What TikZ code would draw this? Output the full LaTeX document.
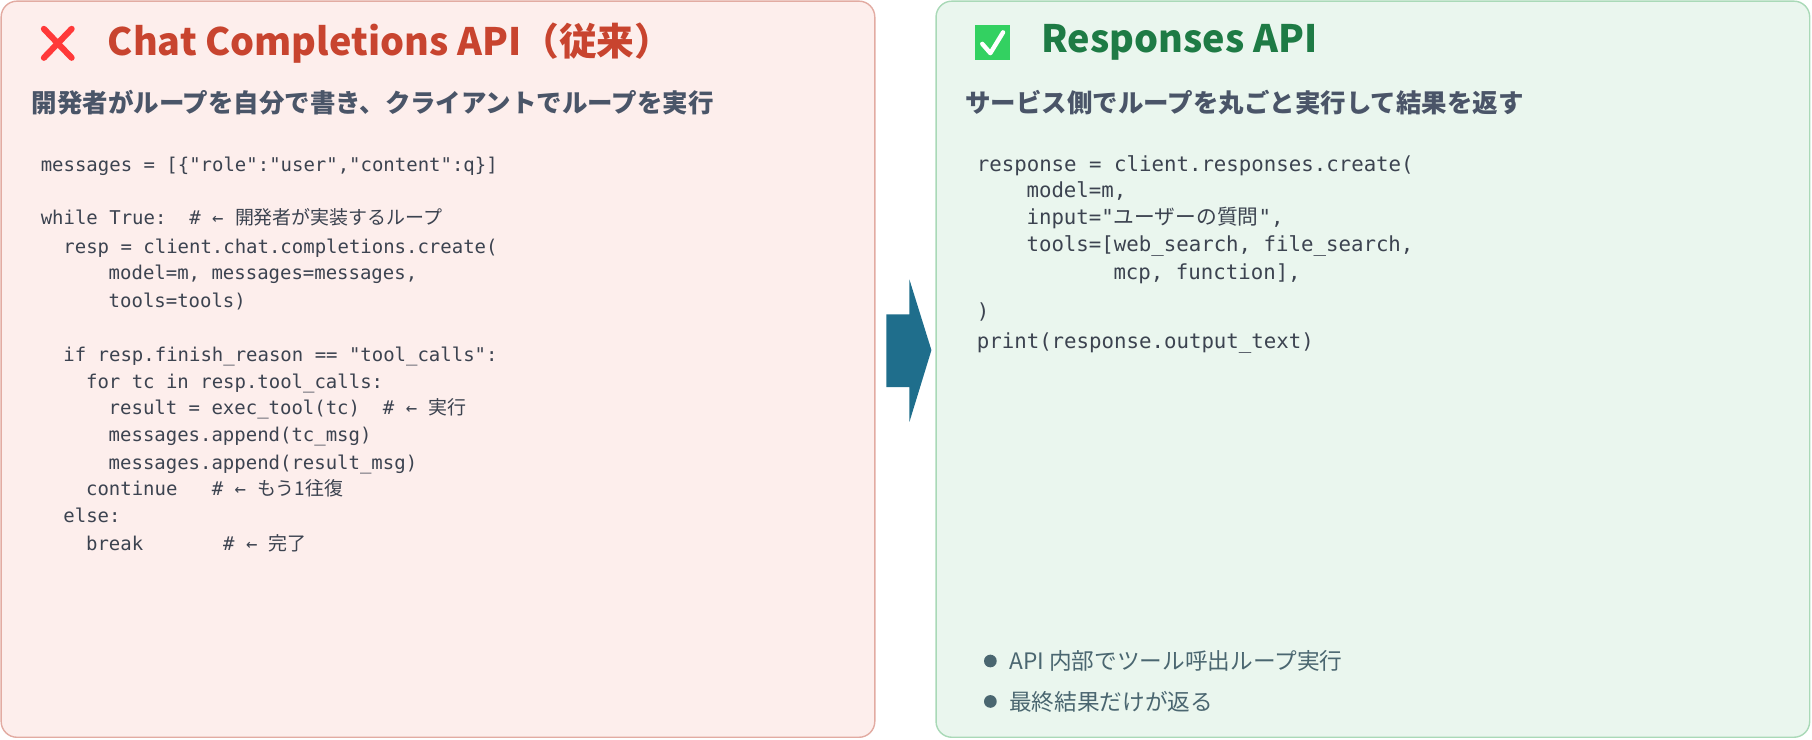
\documentclass[tikz,border=0pt]{standalone}
\usepackage{fontspec}
\setmainfont{Noto Sans CJK JP}
\setmonofont{DejaVu Sans Mono}
\newfontfamily\jp{Noto Sans CJK JP}
\usetikzlibrary{positioning}
\definecolor{leftfill}{HTML}{FDEEEC}
\definecolor{leftline}{HTML}{E2ABA2}
\definecolor{rightfill}{HTML}{EAF6EE}
\definecolor{rightline}{HTML}{A9D9B7}
\definecolor{redtitle}{HTML}{C8442F}
\definecolor{greentitle}{HTML}{1E7B45}
\definecolor{subgray}{HTML}{4A5568}
\definecolor{codegray}{HTML}{3C4350}
\definecolor{arrowteal}{HTML}{1F6E8C}
\definecolor{bulletgray}{HTML}{4A6670}
\tikzset{
  panel/.style={rounded corners=9pt,line width=0.8pt},
  title/.style={anchor=west,font=\fontsize{21.5}{25}\selectfont\bfseries},
  subtitle/.style={anchor=west,text=subgray,font=\fontsize{14.5}{17}\selectfont\bfseries},
  codeL/.style={anchor=base west,inner sep=0pt,text=codegray,font=\fontsize{10.8}{13}\ttfamily},
  codeR/.style={anchor=base west,inner sep=0pt,text=codegray,font=\fontsize{11.8}{14}\ttfamily},
  bullet/.style={anchor=west,text=bulletgray,font=\fontsize{12.9}{15}\selectfont}
}
\begin{document}
\begin{tikzpicture}[x=0.02312cm,y=-0.02312cm]
\useasboundingbox (0,0) rectangle (1568,640);

% panels
\draw[panel,fill=leftfill,draw=leftline] (1,1) rectangle (757,638);
\draw[panel,fill=rightfill,draw=rightline] (810,1) rectangle (1566,638);

% icons
\draw[line width=3.5pt,color=red!70!pink,line cap=round] (38,25) -- (62,50) (62,25) -- (38,50);
\fill[green!55!teal!80] (844,22) rectangle (874,52);
\draw[white,line width=2.5pt,line cap=round,line join=round] (850,38) -- (857,46) -- (868,28);

% titles
\node[title,text=redtitle] (ltitle) at (88,37) {Chat Completions API（従来）};
\node[title,text=greentitle] (rtitle) at (896,37) {Responses API};
\node[subtitle] (lsub) at (22,89) {開発者がループを自分で書き、クライアントでループを実行};
\node[subtitle] (rsub) at (830,89) {サービス側でループを丸ごと実行して結果を返す};

% left code
\foreach \ind/\yy/\txt in {
  0/148/{messages = [\{"role":"user","content":q\}]},
  0/194/{while True:~~\# ← {\jp 開発者が実装するループ}},
  2/219/{resp = client.chat.completions.create(},
  6/242/{model=m, messages=messages,},
  6/266/{tools=tools)},
  2/313/{if resp.finish\_reason == "tool\_calls":},
  4/336/{for tc in resp.tool\_calls:},
  6/359/{result = exec\_tool(tc)~~\# ← {\jp 実行}},
  6/382/{messages.append(tc\_msg)},
  6/406/{messages.append(result\_msg)},
  4/429/{continue~~~\# ← {\jp もう1往復}},
  2/452/{else:},
  4/476/{break~~~~~~~\# ← {\jp 完了}}}
  \node[codeL] (lc\yy) at (35+\ind*9.8,\yy) {\txt};

% right code
\foreach \ind/\yy/\txt in {
  0/148/{response = client.responses.create(},
  4/171/{model=m,},
  4/194/{input="{\jp ユーザーの質問}",},
  4/218/{tools=[web\_search, file\_search,},
  11/242/{mcp, function],},
  0/276/{)},
  0/302/{print(response.output\_text)}}
  \node[codeR] (rc\yy) at (845+\ind*10.75,\yy) {\txt};

% bullets
\fill[bulletgray] (857,572) circle (5.5);
\fill[bulletgray] (857,607) circle (5.5);
\node[bullet] (b1) at (868,572) {API 内部でツール呼出ループ実行};
\node[bullet] (b2) at (868,607) {最終結果だけが返る};

% arrow
\fill[arrowteal] (767,272) -- (787,272) -- (787,242) -- (806,303) -- (787,365)
  -- (787,335) -- (767,335) -- cycle;

\end{tikzpicture}
\end{document}
